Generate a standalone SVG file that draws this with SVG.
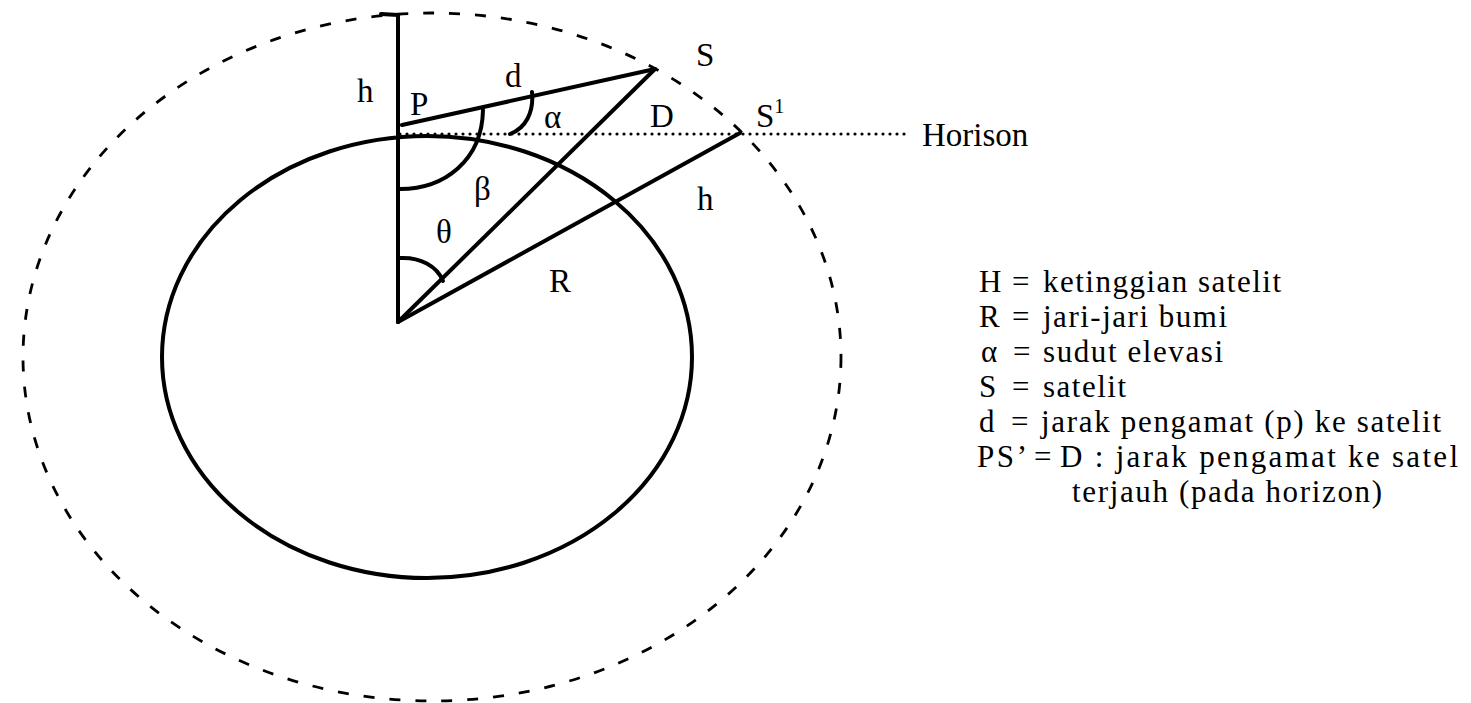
<svg xmlns="http://www.w3.org/2000/svg" width="1471" height="703" viewBox="0 0 1471 703">
  <style>
    .solid { fill: none; stroke: #000; stroke-width: 4; stroke-linecap: round; stroke-linejoin: round; }
    .orbit { fill: none; stroke: #000; stroke-width: 2.8; stroke-dasharray: 11 15; }
    .horizon { fill: none; stroke: #000; stroke-width: 3.2; stroke-linecap: round; stroke-dasharray: 0 7; }
    .lbl { font-family: "Liberation Serif", "Times New Roman", serif; font-size: 33px; fill: #000; }
    .leg { font-family: "Liberation Serif", "Times New Roman", serif; font-size: 31px; fill: #000; }
  </style>
  <rect width="1471" height="703" fill="#fff"/>

  <g id="orbit">
    <ellipse class="orbit" cx="432" cy="357" rx="409" ry="344"/>
  </g>
  <g id="earth">
    <ellipse class="solid" cx="427" cy="357" rx="265" ry="221"/>
  </g>

  <g id="connectors">
    <path class="horizon" d="M400 134 H907"/>
    <path class="solid" d="M381 14 L398 15 L398 322"/>
    <path class="solid" d="M402 125 L655 69"/>
    <path class="solid" d="M398 322 L655 69"/>
    <path class="solid" d="M398 322 L740 133"/>
    <path id="arc-beta" class="solid" d="M400 189 C445 189 482 160 483 110"/>
    <path id="arc-alpha" class="solid" d="M510 134 C526 128 534 112 532 92"/>
    <path id="arc-theta" class="solid" d="M400 258 C420 257 437 266 443 281"/>
  </g>

  <g id="labels">
    <text class="lbl" x="357" y="102">h</text>
    <text class="lbl" x="410" y="115">P</text>
    <text class="lbl" x="505" y="87">d</text>
    <text class="lbl" x="696" y="66">S</text>
    <text class="lbl" x="544" y="128">α</text>
    <text class="lbl" x="650" y="127">D</text>
    <text class="lbl" x="756" y="127">S<tspan font-size="20" dy="-14">1</tspan></text>
    <text class="lbl" x="474" y="200">β</text>
    <text class="lbl" x="697" y="210">h</text>
    <text class="lbl" x="436" y="243">θ</text>
    <text class="lbl" x="549" y="292">R</text>
    <text class="lbl" x="922" y="146">Horison</text>
  </g>

  <g id="legend">
    <text class="leg" x="979" y="292">H</text>
    <text class="leg" x="1012" y="292">=</text>
    <text class="leg" x="1043" y="292" textLength="238" lengthAdjust="spacing">ketinggian satelit</text>

    <text class="leg" x="979" y="327">R</text>
    <text class="leg" x="1012" y="327">=</text>
    <text class="leg" x="1043" y="327" textLength="184" lengthAdjust="spacing">jari-jari bumi</text>

    <text class="leg" x="981" y="362">α</text>
    <text class="leg" x="1013" y="362">=</text>
    <text class="leg" x="1043" y="362" textLength="180" lengthAdjust="spacing">sudut elevasi</text>

    <text class="leg" x="979" y="397">S</text>
    <text class="leg" x="1012" y="397">=</text>
    <text class="leg" x="1043" y="397" textLength="83" lengthAdjust="spacing">satelit</text>

    <text class="leg" x="979" y="432">d</text>
    <text class="leg" x="1011" y="432">=</text>
    <text class="leg" x="1041" y="432" textLength="400" lengthAdjust="spacing">jarak pengamat (p) ke satelit</text>

    <text class="leg" x="977" y="467" textLength="50" lengthAdjust="spacing">PS’</text>
    <text class="leg" x="1034" y="467">=</text>
    <text class="leg" x="1060" y="467" textLength="398" lengthAdjust="spacing">D : jarak pengamat ke satel</text>

    <text class="leg" x="1072" y="502" textLength="310" lengthAdjust="spacing">terjauh (pada horizon)</text>
  </g>
</svg>
